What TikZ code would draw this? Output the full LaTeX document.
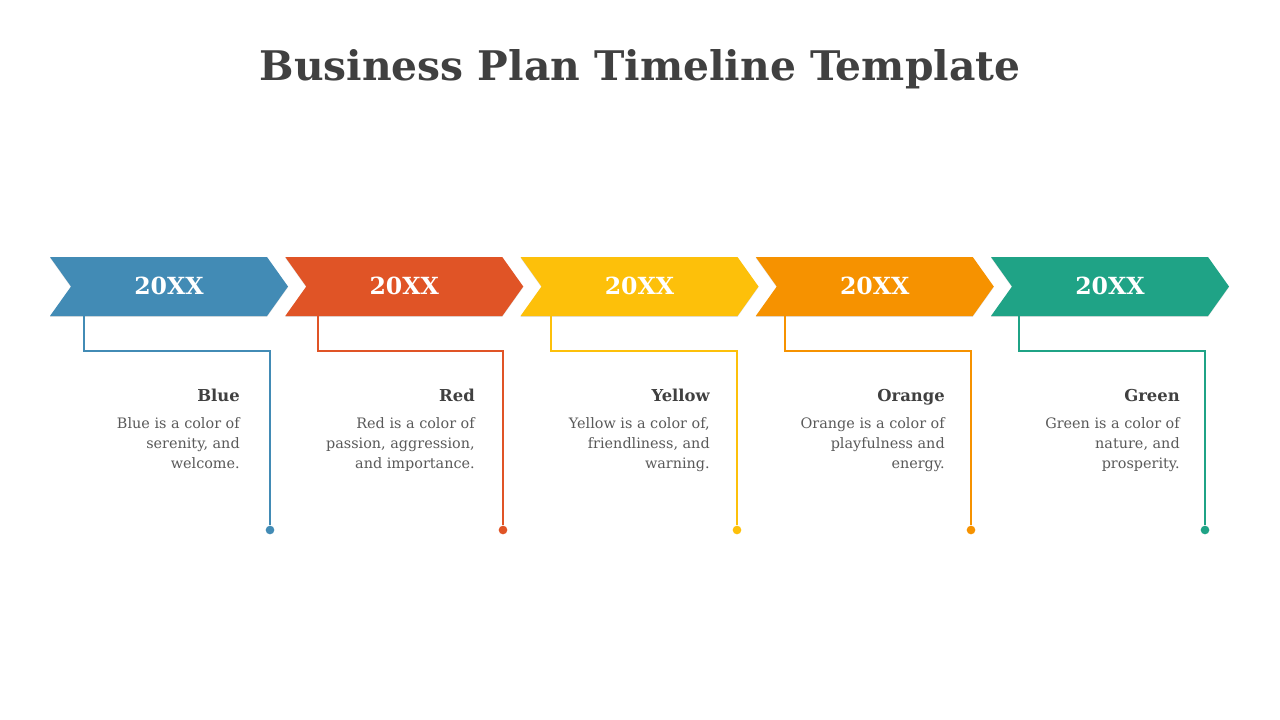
\documentclass[tikz,border=0pt]{standalone}
\usepackage{fontspec}
\setmainfont{DejaVu Serif}
\usetikzlibrary{shadows}
\definecolor{blueC}{HTML}{428BB5}
\definecolor{redC}{HTML}{E05426}
\definecolor{yellowC}{HTML}{FDC00A}
\definecolor{orangeC}{HTML}{F69200}
\definecolor{greenC}{HTML}{1FA386}
\definecolor{titleC}{HTML}{404040}
\definecolor{bodyC}{HTML}{595959}
\tikzset{
  chev/.style={drop shadow={shadow xshift=0pt,shadow yshift=-0.6pt,opacity=.25}},
  year/.style={text=white,font=\fontsize{17.7}{21}\selectfont\bfseries},
  stem/.style={line width=1.9pt},
  dot/.style={circle,inner sep=0pt,minimum size=6.5pt},
  head/.style={anchor=base east,inner sep=0pt,text=titleC,font=\fontsize{12.3}{15}\selectfont\bfseries},
  body/.style={anchor=north east,align=right,inner sep=0pt,text=bodyC,font=\fontsize{10.8}{15}\selectfont},
}
\begin{document}
\begin{tikzpicture}[x=0.75pt,y=-0.75pt]
    \useasboundingbox (0,0) rectangle (1280,720);
    % title:
    \node[text=titleC,font=\fontsize{30.6}{36}\selectfont\bfseries] (title) at (640,69) {Business Plan Timeline Template};
    % blue:
    \fill[blueC, chev] (50,257) -- ++(217,0) -- ++(21,29.5) -- ++(-21,29.5) -- ++(-217,0) -- ++(21,-29.5) -- cycle;
    \node[year] (y1) at (169,285.5) {20XX};
    \coordinate (b1) at (84,316);
    \coordinate (k1) at (270,351);
    \node[dot, fill=blueC] (d1) at (270,530) {};
    \draw[stem, blueC] (b1) |- (k1) -- (d1);
    \node[head] (h1) at (240,401.5) {Blue};
    \node[body] (t1) at (240,417) {Blue is a color of\\serenity, and\\welcome.};
    % red:
    \fill[redC, chev] (285.25,257) -- ++(217,0) -- ++(21,29.5) -- ++(-21,29.5) -- ++(-217,0) -- ++(21,-29.5) -- cycle;
    \node[year] (y2) at (404.25,285.5) {20XX};
    \coordinate (b2) at (318,316);
    \coordinate (k2) at (503,351);
    \node[dot, fill=redC] (d2) at (503,530) {};
    \draw[stem, redC] (b2) |- (k2) -- (d2);
    \node[head] (h2) at (475,401.5) {Red};
    \node[body] (t2) at (475,417) {Red is a color of\\passion, aggression,\\and importance.};
    % yellow:
    \fill[yellowC, chev] (520.5,257) -- ++(217,0) -- ++(21,29.5) -- ++(-21,29.5) -- ++(-217,0) -- ++(21,-29.5) -- cycle;
    \node[year] (y3) at (639.5,285.5) {20XX};
    \coordinate (b3) at (551,316);
    \coordinate (k3) at (737,351);
    \node[dot, fill=yellowC] (d3) at (737,530) {};
    \draw[stem, yellowC] (b3) |- (k3) -- (d3);
    \node[head] (h3) at (710,401.5) {Yellow};
    \node[body] (t3) at (710,417) {Yellow is a color of,\\friendliness, and\\warning.};
    % orange:
    \fill[orangeC, chev] (755.75,257) -- ++(217,0) -- ++(21,29.5) -- ++(-21,29.5) -- ++(-217,0) -- ++(21,-29.5) -- cycle;
    \node[year] (y4) at (874.75,285.5) {20XX};
    \coordinate (b4) at (785,316);
    \coordinate (k4) at (971,351);
    \node[dot, fill=orangeC] (d4) at (971,530) {};
    \draw[stem, orangeC] (b4) |- (k4) -- (d4);
    \node[head] (h4) at (945,401.5) {Orange};
    \node[body] (t4) at (945,417) {Orange is a color of\\playfulness and\\energy.};
    % green:
    \fill[greenC, chev] (991,257) -- ++(217,0) -- ++(21,29.5) -- ++(-21,29.5) -- ++(-217,0) -- ++(21,-29.5) -- cycle;
    \node[year] (y5) at (1110,285.5) {20XX};
    \coordinate (b5) at (1019,316);
    \coordinate (k5) at (1205,351);
    \node[dot, fill=greenC] (d5) at (1205,530) {};
    \draw[stem, greenC] (b5) |- (k5) -- (d5);
    \node[head] (h5) at (1180,401.5) {Green};
    \node[body] (t5) at (1180,417) {Green is a color of\\nature, and\\prosperity.};
\end{tikzpicture}
\end{document}
